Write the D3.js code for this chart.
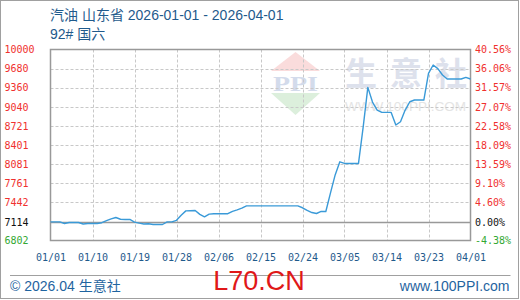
<!DOCTYPE html>
<html>
<head>
<meta charset="utf-8">
<script src="https://cdn.jsdelivr.net/npm/d3@7/dist/d3.min.js"></script>
<style>
  html, body { margin: 0; padding: 0; background: #fff; }
  svg { display: block; }
</style>
</head>
<body>
<svg id="chart" width="520" height="300"></svg>
<script>
// ---- data ----
const dates = [
  "2026-01-01","2026-01-03","2026-01-04","2026-01-05","2026-01-07","2026-01-08","2026-01-09",
  "2026-01-11","2026-01-12","2026-01-13","2026-01-14","2026-01-15","2026-01-16","2026-01-17",
  "2026-01-18","2026-01-19","2026-01-20","2026-01-21","2026-01-22","2026-01-23","2026-01-25",
  "2026-01-26","2026-01-27","2026-01-28","2026-01-29","2026-01-30","2026-02-01","2026-02-02",
  "2026-02-03","2026-02-04","2026-02-05","2026-02-08","2026-02-09","2026-02-10","2026-02-11",
  "2026-02-12","2026-02-23","2026-02-24","2026-02-25","2026-02-26","2026-02-27","2026-02-28",
  "2026-03-01","2026-03-02","2026-03-03","2026-03-04","2026-03-05","2026-03-08","2026-03-09",
  "2026-03-10","2026-03-11","2026-03-12","2026-03-13","2026-03-15","2026-03-16","2026-03-17",
  "2026-03-18","2026-03-19","2026-03-20","2026-03-22","2026-03-23","2026-03-24","2026-03-25",
  "2026-03-26","2026-03-27","2026-03-30","2026-03-31","2026-04-01"
];
const prices = [
  7114, 7114, 7087, 7104, 7104, 7078, 7087,
  7087, 7100, 7135, 7164, 7187, 7158, 7154,
  7154, 7110, 7092, 7078, 7082, 7070, 7070,
  7114, 7114, 7140, 7226, 7298, 7305, 7240,
  7198, 7243, 7250, 7250, 7290, 7315, 7343,
  7382, 7382, 7350, 7305, 7270, 7254, 7288,
  7288, 7600, 7900, 8119, 8092, 8092, 8700,
  9366, 9120, 8986, 8947, 8947, 8735, 8790,
  8986, 9125, 9154, 9154, 9600, 9740, 9680,
  9573, 9506, 9506, 9534, 9506
];
const basePrice = 7114;
const leftTicks = [10000, 9680, 9360, 9040, 8721, 8401, 8081, 7761, 7442, 7114, 6802];
const rightTickLabels = ["40.56%","36.06%","31.57%","27.07%","22.58%","18.09%","13.59%","9.10%","4.60%","0.00%","-4.38%"];
const xTickLabels = ["01/01","01/10","01/19","01/28","02/06","02/15","02/24","03/05","03/14","03/23","04/01"];
const titleText = "汽油 山东省 2026-01-01 - 2026-04-01";
const subtitleText = "92# 国六";
const footerLeft = "© 2026.04 生意社";
const footerRight = "www.100PPI.com";
const footerCenter = "L70.CN";
const watermarkChars = ["生", "意", "社"];

// ---- layout ----
const plot = { left: 50.5, right: 470.5, top: 49.5, bottom: 240.5 };
const svg = d3.select("#chart");

const parse = d3.utcParse("%Y-%m-%d");
const series = dates.map((d, i) => ({ date: parse(d), value: prices[i] }));
const tickDates = xTickLabels.map(s => parse("2026-" + s.replace("/", "-")));

const x = d3.scaleUtc()
  .domain([parse("2026-01-01"), parse("2026-04-01")])
  .range([plot.left, plot.right]);
const y = d3.scaleLinear()
  .domain([6802, 10000])
  .range([plot.bottom, plot.top]);

const tickFont = "'DejaVu Sans Mono', monospace";
const cjkFont = "'Liberation Sans', Arial, 'Noto Sans CJK SC', sans-serif";
const colorFor = v => v === basePrice ? "#111" : (v < basePrice ? "#33a833" : "#f0302e");

// outer border
svg.append("rect")
  .attr("x", 0.5).attr("y", 0.5).attr("width", 518).attr("height", 298)
  .attr("fill", "#fff").attr("stroke", "#a0a0a0").attr("stroke-width", 1);

// title
svg.append("text").attr("x", 50).attr("y", 19.5)
  .attr("font-family", cjkFont).attr("font-size", 14).attr("fill", "#1f5a8c")
  .text(titleText);
svg.append("text").attr("x", 50).attr("y", 39)
  .attr("font-family", cjkFont).attr("font-size", 14).attr("fill", "#1f5a8c")
  .text(subtitleText);

// ---- watermark ----
const wm = svg.append("g");
wm.append("path")
  .attr("d", "M271,71 L320,71 L295.5,52 Z")
  .attr("fill", "#fadcdc");
wm.append("path")
  .attr("d", "M271,93 L320,93 L295.5,115 Z")
  .attr("fill", "#dcefdc");
wm.append("text").attr("x", 273).attr("y", 91)
  .attr("font-family", "'Liberation Serif', 'DejaVu Serif', serif").attr("font-weight", "bold")
  .attr("font-size", 22).attr("fill", "#d3dbeb")
  .attr("textLength", 45).attr("lengthAdjust", "spacingAndGlyphs")
  .text("PPI");
wm.selectAll("text.wmc")
  .data(watermarkChars)
  .join("text")
  .attr("class", "wmc")
  .attr("x", (d, i) => 345 + i * 45).attr("y", 84.5)
  .attr("font-family", "'Noto Sans CJK SC', sans-serif").attr("font-weight", "bold")
  .attr("font-size", 32).attr("fill", "#dde1ec")
  .text(d => d);
wm.append("text").attr("x", 345).attr("y", 110.5)
  .attr("font-family", "'Liberation Sans', Arial, sans-serif")
  .attr("font-size", 13.5).attr("fill", "#e4e4e4")
  .attr("textLength", 121).attr("lengthAdjust", "spacingAndGlyphs")
  .text("WWW.100PPI.COM");

// ---- grid ----
const grid = svg.append("g");
grid.selectAll("line.h")
  .data(leftTicks.filter(v => v !== 10000 && v !== 6802 && v !== basePrice))
  .join("line")
  .attr("x1", plot.left).attr("x2", plot.right)
  .attr("y1", d => Math.round(y(d)) + 0.5).attr("y2", d => Math.round(y(d)) + 0.5)
  .attr("stroke", "#c8c8c8").attr("stroke-dasharray", "3,2");
grid.selectAll("line.v")
  .data(tickDates.slice(1, -1))
  .join("line")
  .attr("x1", d => Math.round(x(d)) + 0.5).attr("x2", d => Math.round(x(d)) + 0.5)
  .attr("y1", plot.top).attr("y2", plot.bottom)
  .attr("stroke", "#c8c8c8").attr("stroke-dasharray", "3,2");

// base line (0.00%)
svg.append("line")
  .attr("x1", plot.left).attr("x2", plot.right)
  .attr("y1", Math.round(y(basePrice)) + 0.5).attr("y2", Math.round(y(basePrice)) + 0.5)
  .attr("stroke", "#999").attr("stroke-width", 1.5);

// plot frame
svg.append("rect")
  .attr("x", plot.left).attr("y", plot.top)
  .attr("width", plot.right - plot.left).attr("height", plot.bottom - plot.top)
  .attr("fill", "none").attr("stroke", "#999").attr("stroke-width", 1.5);

// ---- axes ----
const leftAxis = svg.append("g")
  .call(d3.axisLeft(y).tickValues(leftTicks).tickSize(0).tickFormat(d3.format("d")));
leftAxis.select(".domain").remove();
leftAxis.selectAll("text")
  .attr("x", 4.5).attr("text-anchor", "start")
  .attr("font-family", tickFont).attr("font-size", 10)
  .attr("fill", d => colorFor(d));

const rightAxis = svg.append("g").attr("transform", "translate(472,0)")
  .call(d3.axisRight(y).tickValues(leftTicks).tickSize(0).tickPadding(3)
    .tickFormat((d, i) => rightTickLabels[i]));
rightAxis.select(".domain").remove();
rightAxis.selectAll("text")
  .attr("font-family", tickFont).attr("font-size", 10)
  .attr("fill", d => colorFor(d));

const bottomAxis = svg.append("g")
  .call(d3.axisBottom(x).tickValues(tickDates).tickSize(0)
    .tickFormat((d, i) => xTickLabels[i]));
bottomAxis.select(".domain").remove();
bottomAxis.selectAll("text")
  .attr("y", 260.5).attr("dy", 0)
  .attr("font-family", tickFont).attr("font-size", 10)
  .attr("fill", "#1f5a8c");
svg.selectAll("g").attr("font-family", null).attr("font-size", null);

// ---- price line ----
svg.append("path")
  .datum(series)
  .attr("fill", "none")
  .attr("stroke", "#3a9ad8")
  .attr("stroke-width", 1.4)
  .attr("stroke-linejoin", "round")
  .attr("d", d3.line().x(d => x(d.date)).y(d => y(d.value)));

// ---- footer ----
svg.append("line")
  .attr("x1", 10).attr("x2", 510.5).attr("y1", 275.5).attr("y2", 275.5)
  .attr("stroke", "#a0a0a0");
svg.append("text").attr("x", 10).attr("y", 291)
  .attr("font-family", cjkFont).attr("font-size", 14).attr("fill", "#1f64a0")
  .text(footerLeft);
svg.append("text").attr("x", 509.5).attr("y", 291).attr("text-anchor", "end")
  .attr("font-family", cjkFont).attr("font-size", 14).attr("fill", "#1f64a0")
  .text(footerRight);
svg.append("text").attr("x", 259).attr("y", 290).attr("text-anchor", "middle")
  .attr("font-family", "'Liberation Sans', Arial, sans-serif").attr("font-size", 27)
  .attr("fill", "#e01818")
  .text(footerCenter);
</script>
</body>
</html>
